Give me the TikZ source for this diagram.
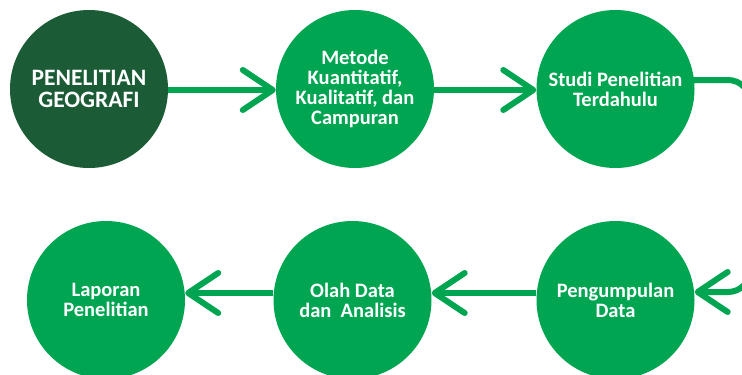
\documentclass[tikz,border=0pt]{standalone}
\usepackage{fontspec}
\setmainfont{Carlito}
\usetikzlibrary{arrows.meta}
\definecolor{gr}{HTML}{00A551}
\definecolor{dk}{HTML}{1B5B36}
\tikzset{
  stepcirc/.style={circle, fill=gr, minimum size=158pt, inner sep=0pt, text=white,
    font=\bfseries\fontsize{20.5}{20}\selectfont, align=center},
  conn/.style={draw=gr, line width=6pt, -{Straight Barb[length=30pt, width=40pt, line width=6pt, round=false]}},
}
\begin{document}
\begin{tikzpicture}[x=1pt,y=-1pt]
\useasboundingbox (0,0) rectangle (742,375);
\clip (0,0) rectangle (742,375);
\node[stepcirc, fill=dk, font=\bfseries\fontsize{23.5}{21.5}\selectfont] (c1) at (89,89) {PENELITIAN\\GEOGRAFI};
\node[stepcirc] (c2) at (355,89) {Metode\\Kuantitatif,\\Kualitatif, dan\\Campuran};
\node[stepcirc] (c3) at (615.5,89) {Studi Penelitian\\Terdahulu};
\node[stepcirc] (c4) at (106,300) {Laporan\\Penelitian};
\node[stepcirc] (c5) at (352.5,300) {Olah Data\\dan~ Analisis};
\node[stepcirc] (c6) at (615.5,300) {Pengumpulan\\Data};
\draw[conn] (c1.east |- 0,90) -- (c2.west |- 0,90);
\draw[conn] (c2.east |- 0,90) -- (c3.west |- 0,90);
\draw[conn] (c6.west |- 0,293) -- (c5.east |- 0,293);
\draw[conn] (c5.west |- 0,293) -- (c4.east |- 0,293);
\coordinate (r1) at (728,80);
\coordinate (r2) at (728,292);
\draw[conn] ([xshift=-4pt]c3.east |- 0,80) -- (r1) to[out=0,in=90] (750,102) -- (750,270) to[out=-90,in=0] (r2) -- (c6.east |- 0,292);
\end{tikzpicture}
\end{document}
